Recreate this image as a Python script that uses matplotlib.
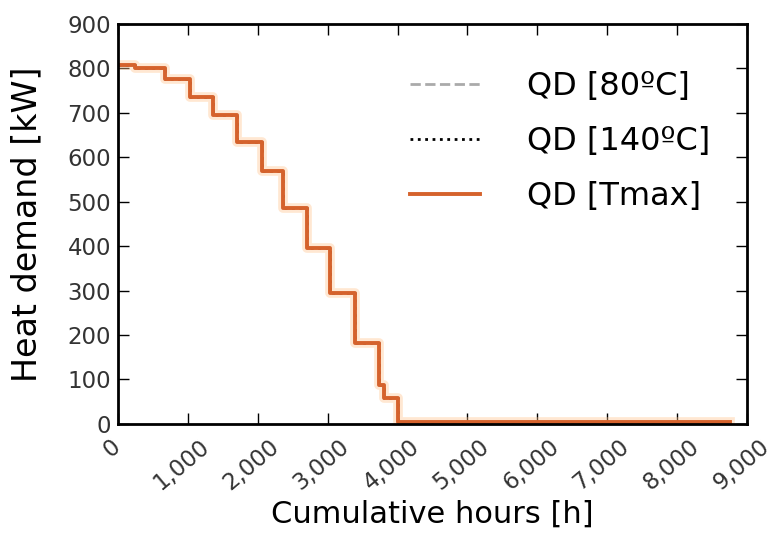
import numpy as np
import matplotlib
matplotlib.use("Agg")
import matplotlib.pyplot as plt
import matplotlib.transforms as mtransforms
from matplotlib.ticker import FuncFormatter

# step edges [h] and heat demand levels [kW]
hours = [0, 240, 670, 1030, 1360, 1710, 2060, 2360, 2710, 3040, 3390, 3730, 3810, 4000, 8760]
demand = [808, 800, 775, 736, 694, 634, 568, 486, 396, 295, 182, 88, 59, 5, 5]

x_ticks = [0, 1000, 2000, 3000, 4000, 5000, 6000, 7000, 8000, 9000]
y_ticks = [0, 100, 200, 300, 400, 500, 600, 700, 800, 900]

fig = plt.figure(figsize=(7.76, 5.38), dpi=100)
ax = fig.add_axes([0.152, 0.212, 0.8106, 0.7435])

ax.step(hours, demand, where='post', color='#aaaaaa', linestyle='--', linewidth=2, label='QD [80ºC]')
ax.step(hours, demand, where='post', color='black', linestyle=':', linewidth=2, label='QD [140ºC]')
# soft glow under the main curve
ax.step(hours, demand, where='post', color='#ffc58f', linewidth=7, alpha=0.4)
ax.step(hours, demand, where='post', color='#d5622c', linewidth=2.8, label='QD [Tmax]')

ax.set_xlim(0, 9000)
ax.set_ylim(0, 900)
ax.set_xticks(x_ticks)
ax.set_yticks(y_ticks)
ax.xaxis.set_major_formatter(FuncFormatter(lambda v, p: f"{int(v):,}"))
ax.tick_params(direction='in', top=True, right=True, length=8, width=1,
               labelsize=16.5, labelcolor='#333333')
ax.tick_params(axis='y', pad=5)
ax.tick_params(axis='x', pad=8)
# rotated labels sit a little left of their ticks
shift = mtransforms.ScaledTranslation(-6 / 100, 0, fig.dpi_scale_trans)
for lbl in ax.get_xticklabels():
    lbl.set_rotation(40)
    lbl.set_ha('center')
    lbl.set_transform(lbl.get_transform() + shift)
for s in ax.spines.values():
    s.set_linewidth(2)

ax.set_xlabel('Cumulative hours [h]', fontsize=22)
ax.set_ylabel('Heat demand [kW]', fontsize=24)
ax.xaxis.set_label_coords(0.5, -0.19)
ax.yaxis.set_label_coords(-0.118, 0.5)

handles, labels = ax.get_legend_handles_labels()
ax.legend(handles, labels, loc='upper left', bbox_to_anchor=(0.4436, 0.914),
          borderaxespad=0, frameon=False, fontsize=23, handlelength=2.2,
          handletextpad=1.47, labelspacing=0.75)

fig.savefig('out.png', dpi=100)
